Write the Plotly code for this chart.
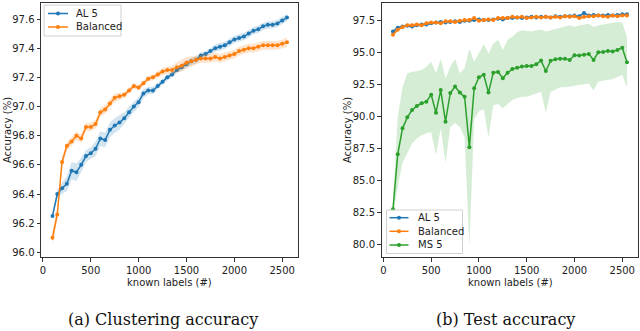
import plotly.graph_objects as go

# known labels (#), one point every 50 labels
known = [100, 150, 200, 250, 300, 350, 400, 450, 500, 550,
         600, 650, 700, 750, 800, 850, 900, 950, 1000, 1050,
         1100, 1150, 1200, 1250, 1300, 1350, 1400, 1450, 1500, 1550,
         1600, 1650, 1700, 1750, 1800, 1850, 1900, 1950, 2000, 2050,
         2100, 2150, 2200, 2250, 2300, 2350, 2400, 2450, 2500, 2550]

# (a) clustering accuracy
clu_al5 = [96.25, 96.40, 96.44, 96.47, 96.56, 96.55, 96.60, 96.66, 96.68, 96.71,
           96.78, 96.77, 96.84, 96.87, 96.89, 96.92, 96.96, 97.00, 97.03, 97.09,
           97.11, 97.11, 97.14, 97.17, 97.20, 97.22, 97.25, 97.27, 97.29, 97.31,
           97.32, 97.35, 97.36, 97.38, 97.40, 97.41, 97.42, 97.44, 97.46, 97.47,
           97.48, 97.50, 97.52, 97.53, 97.55, 97.56, 97.56, 97.57, 97.59, 97.61]
clu_al5_sd = [0.02, 0.03, 0.04, 0.05, 0.06, 0.06, 0.05, 0.04, 0.04, 0.05,
              0.05, 0.05, 0.05, 0.05, 0.05, 0.04, 0.04, 0.035, 0.035, 0.03,
              0.025, 0.025, 0.02, 0.02, 0.02, 0.02, 0.02, 0.025, 0.025, 0.025,
              0.025, 0.02, 0.02, 0.02, 0.025, 0.025, 0.025, 0.025, 0.025, 0.025,
              0.025, 0.025, 0.025, 0.025, 0.025, 0.025, 0.025, 0.025, 0.025, 0.025]
clu_bal = [96.10, 96.26, 96.62, 96.73, 96.76, 96.80, 96.78, 96.86, 96.86, 96.88,
           96.96, 96.98, 97.02, 97.06, 97.07, 97.08, 97.11, 97.14, 97.13, 97.16,
           97.19, 97.20, 97.22, 97.24, 97.25, 97.25, 97.27, 97.28, 97.30, 97.31,
           97.32, 97.33, 97.33, 97.33, 97.34, 97.33, 97.34, 97.35, 97.36, 97.38,
           97.39, 97.40, 97.40, 97.41, 97.42, 97.42, 97.42, 97.42, 97.43, 97.44]
clu_bal_sd = [0.05, 0.04, 0.03, 0.03, 0.03, 0.03, 0.03, 0.03, 0.03, 0.03,
              0.03, 0.03, 0.03, 0.03, 0.025, 0.02, 0.02, 0.02, 0.02, 0.02,
              0.02, 0.02, 0.02, 0.025, 0.025, 0.03, 0.035, 0.04, 0.04, 0.035,
              0.03, 0.03, 0.03, 0.03, 0.03, 0.03, 0.03, 0.03, 0.03, 0.03,
              0.03, 0.03, 0.03, 0.03, 0.03, 0.03, 0.03, 0.03, 0.03, 0.035]

# (b) test accuracy
test_al5 = [96.65, 96.95, 97.05, 97.10, 97.05, 97.15, 97.20, 97.20, 97.30, 97.35,
            97.40, 97.35, 97.40, 97.45, 97.40, 97.50, 97.50, 97.55, 97.60, 97.55,
            97.55, 97.60, 97.65, 97.60, 97.70, 97.70, 97.75, 97.70, 97.75, 97.80,
            97.75, 97.80, 97.80, 97.75, 97.85, 97.80, 97.85, 97.85, 97.90, 97.85,
            98.10, 97.90, 97.95, 97.90, 97.90, 97.95, 97.90, 97.95, 98.00, 98.00]
test_al5_sd = [0.15, 0.12, 0.1, 0.1, 0.1, 0.1, 0.1, 0.1, 0.1, 0.1,
               0.1, 0.1, 0.1, 0.1, 0.1, 0.1, 0.1, 0.1, 0.1, 0.1,
               0.08, 0.08, 0.08, 0.08, 0.08, 0.08, 0.08, 0.08, 0.08, 0.08,
               0.08, 0.08, 0.08, 0.08, 0.08, 0.08, 0.08, 0.08, 0.08, 0.08,
               0.1, 0.08, 0.08, 0.08, 0.08, 0.08, 0.08, 0.08, 0.08, 0.08]
test_bal = [96.40, 96.80, 97.00, 97.15, 97.15, 97.20, 97.15, 97.30, 97.35, 97.35,
            97.30, 97.45, 97.45, 97.40, 97.50, 97.55, 97.55, 97.70, 97.50, 97.55,
            97.60, 97.55, 97.70, 97.70, 97.70, 97.80, 97.75, 97.80, 97.70, 97.75,
            97.80, 97.75, 97.80, 97.75, 97.80, 97.75, 97.85, 97.80, 97.85, 97.70,
            97.80, 97.85, 97.85, 97.90, 97.85, 97.80, 97.90, 97.85, 97.90, 97.90]
test_bal_sd = [0.2, 0.15, 0.12, 0.12, 0.12, 0.12, 0.12, 0.12, 0.12, 0.12,
               0.12, 0.12, 0.12, 0.12, 0.12, 0.12, 0.12, 0.12, 0.12, 0.12,
               0.1, 0.1, 0.1, 0.1, 0.1, 0.1, 0.1, 0.1, 0.1, 0.1,
               0.1, 0.1, 0.1, 0.1, 0.1, 0.1, 0.1, 0.1, 0.1, 0.1,
               0.1, 0.1, 0.1, 0.1, 0.1, 0.1, 0.1, 0.1, 0.1, 0.1]
test_ms5 = [82.77, 87.06, 89.09, 89.95, 90.52, 90.84, 91.05, 91.17, 91.72, 90.31,
            92.08, 89.61, 91.85, 92.35, 91.88, 91.55, 87.62, 92.22, 93.08, 93.28,
            91.88, 93.44, 93.50, 93.00, 93.44, 93.72, 93.83, 93.92, 93.96, 93.95,
            94.09, 94.38, 93.57, 94.36, 94.49, 94.53, 94.53, 94.43, 94.80, 94.78,
            94.83, 94.90, 94.43, 95.03, 95.05, 95.13, 95.10, 95.21, 95.39, 94.25]
test_ms5_hi = [83.4, 90.0, 92.3, 93.4, 93.5, 93.55, 93.65, 93.9, 94.3, 93.4,
               94.5, 93.0, 93.9, 94.5, 93.4, 93.8, 95.3, 94.3, 95.0, 95.65,
               94.95, 95.7, 96.0, 95.2, 96.0, 96.25, 96.6, 96.75, 96.7, 96.65,
               96.75, 96.8, 96.65, 96.75, 96.85, 96.9, 97.0, 97.15, 97.0, 97.15,
               97.2, 97.25, 97.0, 97.15, 97.2, 97.25, 97.3, 97.4, 97.35, 96.2]
test_ms5_lo = [82.2, 84.5, 86.4, 87.1, 87.9, 88.3, 88.55, 88.7, 88.8, 87.0,
               89.1, 86.4, 89.2, 89.5, 89.2, 88.4, 79.9, 89.8, 90.4, 90.6,
               88.4, 90.9, 91.0, 90.65, 91.0, 91.3, 91.45, 91.55, 91.55, 91.7,
               91.8, 91.95, 90.3, 91.95, 92.1, 92.3, 92.3, 92.35, 92.45, 92.45,
               92.55, 92.6, 92.05, 92.75, 92.8, 92.85, 92.95, 93.1, 93.25, 92.3]

BLUE, ORANGE, GREEN = '#1f77b4', '#ff7f0e', '#2ca02c'
FILL = {BLUE: 'rgba(31,119,180,0.2)', ORANGE: 'rgba(255,127,14,0.2)', GREEN: 'rgba(44,160,44,0.2)'}

W, H = 640, 331
fig = go.Figure()


def add_series(name, y, lo, hi, color, xa, ya):
    fig.add_trace(go.Scatter(x=known, y=hi, mode='lines', line=dict(width=0),
                             xaxis=xa, yaxis=ya, showlegend=False, hoverinfo='skip'))
    fig.add_trace(go.Scatter(x=known, y=lo, mode='lines', line=dict(width=0), fill='tonexty',
                             fillcolor=FILL[color], xaxis=xa, yaxis=ya, showlegend=False,
                             hoverinfo='skip'))
    fig.add_trace(go.Scatter(x=known, y=y, name=name, mode='lines+markers',
                             line=dict(color=color, width=1.5), marker=dict(size=4, color=color),
                             xaxis=xa, yaxis=ya, showlegend=False))


add_series('AL 5', clu_al5, [v - s for v, s in zip(clu_al5, clu_al5_sd)],
           [v + s for v, s in zip(clu_al5, clu_al5_sd)], BLUE, 'x', 'y')
add_series('Balanced', clu_bal, [v - s for v, s in zip(clu_bal, clu_bal_sd)],
           [v + s for v, s in zip(clu_bal, clu_bal_sd)], ORANGE, 'x', 'y')
add_series('AL 5', test_al5, [v - s for v, s in zip(test_al5, test_al5_sd)],
           [v + s for v, s in zip(test_al5, test_al5_sd)], BLUE, 'x2', 'y2')
add_series('Balanced', test_bal, [v - s for v, s in zip(test_bal, test_bal_sd)],
           [v + s for v, s in zip(test_bal, test_bal_sd)], ORANGE, 'x2', 'y2')
add_series('MS 5', test_ms5, test_ms5_lo, test_ms5_hi, GREEN, 'x2', 'y2')

tickfont = dict(family='DejaVu Sans', size=10, color='#222')
axis_common = dict(showline=True, linecolor='#333', linewidth=1, mirror=True, ticks='outside',
                   ticklen=3.5, tickcolor='#333', showgrid=False, zeroline=False, tickfont=tickfont)

fig.update_layout(
    width=W, height=H, margin=dict(l=0, r=0, t=0, b=0),
    paper_bgcolor='white', plot_bgcolor='white', showlegend=False,
    xaxis=dict(domain=[41 / W, 298 / W], range=[-20, 2665], tickvals=[0, 500, 1000, 1500, 2000, 2500],
               anchor='y', **axis_common),
    yaxis=dict(domain=[74 / H, 328 / H], range=[95.968, 97.71], dtick=0.2, tickformat='.1f',
               anchor='x', **axis_common),
    xaxis2=dict(domain=[381.5 / W, 638 / W], range=[-20, 2665], tickvals=[0, 500, 1000, 1500, 2000, 2500],
                anchor='y2', **axis_common),
    yaxis2=dict(domain=[74 / H, 328 / H], range=[79.04, 98.88], dtick=2.5, tickformat='.1f',
                anchor='x2', **axis_common),
)

# legends drawn by hand (matplotlib-style compact boxes), positions in pixels
def px(x, y):
    return x / W, (H - y) / H


def legend_box(x0, y0, x1, y1, entries, line_x0, line_x1, text_x):
    a0, b0 = px(x0, y1)
    a1, b1 = px(x1, y0)
    fig.add_shape(type='rect', xref='paper', yref='paper', x0=a0, y0=b0, x1=a1, y1=b1,
                  line=dict(color='#d0d0d0', width=1), fillcolor='rgba(255,255,255,0.8)', layer='above')
    for name, color, yy in entries:
        l0, ly = px(line_x0, yy)
        l1, _ = px(line_x1, yy)
        fig.add_shape(type='line', xref='paper', yref='paper', x0=l0, y0=ly, x1=l1, y1=ly,
                      line=dict(color=color, width=1.5), layer='above')
        mx = (line_x0 + line_x1) / 2
        c0, d0 = px(mx - 2, yy + 2)
        c1, d1 = px(mx + 2, yy - 2)
        fig.add_shape(type='circle', xref='paper', yref='paper', x0=c0, y0=d0, x1=c1, y1=d1,
                      line=dict(color=color, width=0), fillcolor=color, layer='above')
        tx, ty = px(text_x, yy)
        fig.add_annotation(xref='paper', yref='paper', x=tx, y=ty, text=name, showarrow=False,
                           xanchor='left', yanchor='middle',
                           font=dict(family='DejaVu Sans', size=10, color='#222'))


legend_box(44, 5, 121, 36, [('AL 5', BLUE, 13.5), ('Balanced', ORANGE, 27)], 48, 68, 74)
legend_box(386.5, 210, 462.5, 253.5, [('AL 5', BLUE, 217.7), ('Balanced', ORANGE, 231.3),
                                      ('MS 5', GREEN, 245)], 389.5, 408.5, 416)

labfont = dict(family='DejaVu Sans', size=10, color='#222')
capfont = dict(family='DejaVu Serif', size=16, color='#111')
notes = [
    dict(text='Accuracy (%)', x=7 / W, y=0.607, textangle=-90, font=labfont),
    dict(text='Accuracy (%)', x=347 / W, y=0.607, textangle=-90, font=labfont),
    dict(text='known labels (#)', x=169 / W, y=(H - 282) / H, font=labfont),
    dict(text='known labels (#)', x=510 / W, y=(H - 282) / H, font=labfont),
    dict(text='(a) Clustering accuracy', x=163 / W, y=(H - 319) / H, font=capfont),
    dict(text='(b) Test accuracy', x=505 / W, y=(H - 319) / H, font=capfont),
]
for n in notes:
    fig.add_annotation(xref='paper', yref='paper', showarrow=False, xanchor='center', yanchor='middle', **n)

fig.write_html("out.html", config={'displayModeBar': False},
               post_script="document.body.style.margin='0';")
